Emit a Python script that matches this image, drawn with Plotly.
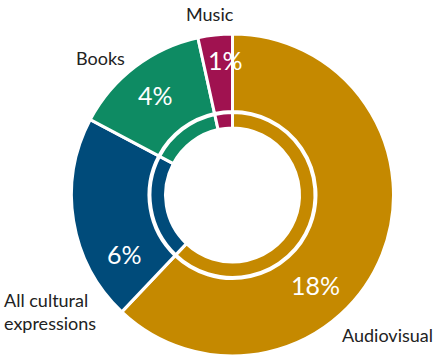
import plotly.graph_objects as go

categories = ["Audiovisual", "All cultural expressions", "Books", "Music"]
values = [18, 6, 4, 1]
colors = ["#C58900", "#004B7A", "#0E8B63", "#A01250"]
category_text = ["Audiovisual", "All cultural<br>expressions", "Books", "Music"]

W, H = 434, 356
FONT = "Lato, 'Open Sans', sans-serif"

def dom(cx, cy, r):
    return dict(x=[(cx - r) / W, (cx + r) / W], y=[max(0, (H - cy - r) / H), min(1, (H - cy + r) / H)])

cx, cy = 232.5, 195
fig = go.Figure()
fig.add_trace(go.Pie(
    labels=categories, values=values, sort=False, direction="clockwise", rotation=0,
    hole=83.5 / 161, domain=dom(cx, cy, 161),
    marker=dict(colors=colors, line=dict(color="white", width=3)),
    textinfo="none", hoverinfo="skip", showlegend=False,
))
fig.add_trace(go.Pie(
    labels=categories, values=values, sort=False, direction="clockwise", rotation=0,
    hole=67 / 82.5, domain=dom(cx, cy, 82.5),
    marker=dict(colors=colors, line=dict(color="white", width=3)),
    textinfo="none", hoverinfo="skip", showlegend=False,
))

pct_pos = [(315.5, 285), (125, 254), (155, 95), (226, 60)]
lab_pos = [(387, 335), (50, 311), (100, 58), (210, 14)]

for v, (px, py) in zip(values, pct_pos):
    fig.add_annotation(x=px / W, y=1 - py / H, xref="paper", yref="paper",
                       text=f"{v}%", showarrow=False, xanchor="center", yanchor="middle",
                       font=dict(family=FONT, size=25, color="white"))
for t, (px, py) in zip(category_text, lab_pos):
    fig.add_annotation(x=px / W, y=1 - py / H, xref="paper", yref="paper",
                       text=t, showarrow=False, xanchor="center", yanchor="middle", align="left",
                       font=dict(family=FONT, size=18, color="#222222"))

fig.update_layout(width=W, height=H, margin=dict(l=0, r=0, t=0, b=0),
                  paper_bgcolor="white", plot_bgcolor="white")
fig.write_html("out.html", config={"displayModeBar": False},
               post_script="document.body.style.margin='0';document.body.style.overflow='hidden';")
